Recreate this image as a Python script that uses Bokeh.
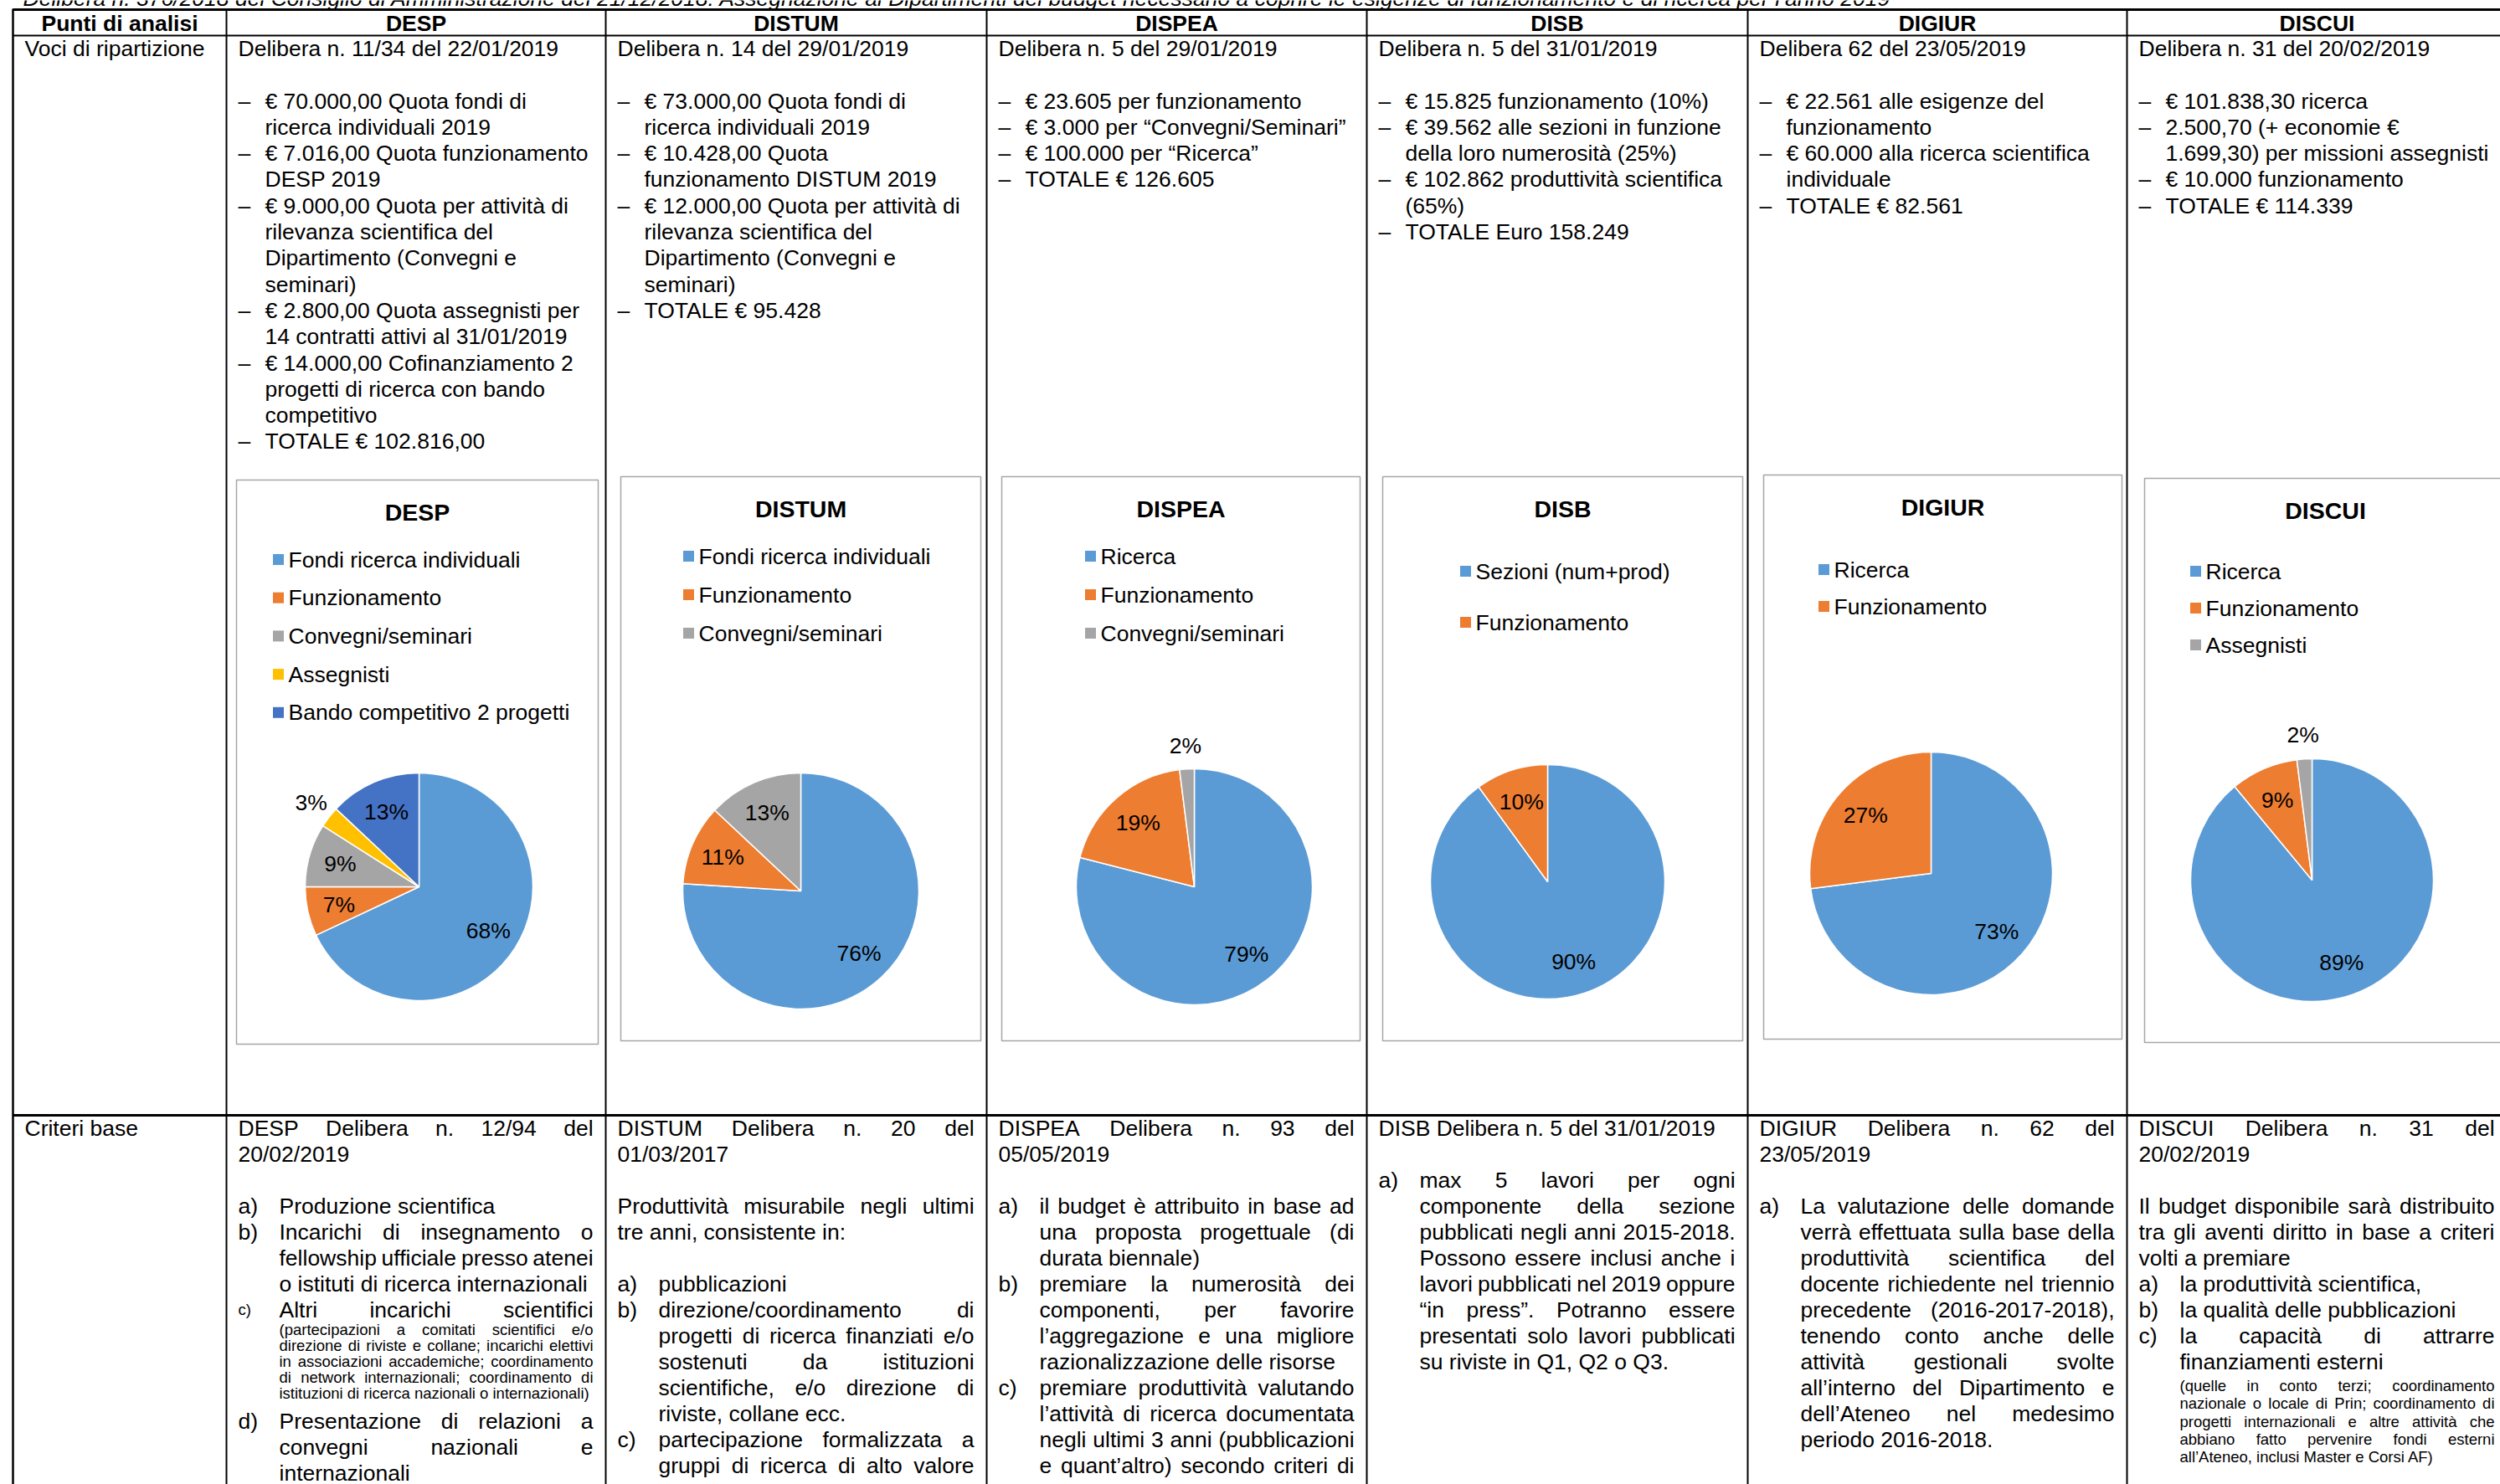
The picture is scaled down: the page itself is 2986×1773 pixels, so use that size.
import math
from bokeh.plotting import figure
from bokeh.models import Range1d, ColumnDataSource
from bokeh.core.properties import value
from bokeh.embed import file_html
from bokeh.resources import INLINE

# ---------------------------------------------------------------- data
title_text = ("Delibera n. 376/2018 del Consiglio di Amministrazione del 21/12/2018: Assegnazione ai "
              "Dipartimenti del budget necessario a coprire le esigenze di funzionamento e di ricerca per l’anno 2019")
header_labels = ["Punti di analisi", "DESP", "DISTUM", "DISPEA", "DISB", "DIGIUR", "DISCUI"]
row_labels = ["Voci di ripartizione", "Criteri base"]

delibere = ["Delibera n. 11/34 del 22/01/2019", "Delibera n. 14 del 29/01/2019",
            "Delibera n. 5 del 29/01/2019", "Delibera n. 5 del 31/01/2019",
            "Delibera 62 del 23/05/2019", "Delibera n. 31 del 20/02/2019"]

voci_desp = ["– € 70.000,00 Quota fondi di", "ricerca individuali 2019",
             "– € 7.016,00 Quota funzionamento", "DESP 2019",
             "– € 9.000,00 Quota per attività di", "rilevanza scientifica del",
             "Dipartimento (Convegni e", "seminari)",
             "– € 2.800,00 Quota assegnisti per", "14 contratti attivi al 31/01/2019",
             "– € 14.000,00 Cofinanziamento 2", "progetti di ricerca con bando", "competitivo",
             "– TOTALE € 102.816,00"]
voci_distum = ["– € 73.000,00 Quota fondi di", "ricerca individuali 2019",
               "– € 10.428,00 Quota", "funzionamento DISTUM 2019",
               "– € 12.000,00 Quota per attività di", "rilevanza scientifica del",
               "Dipartimento (Convegni e", "seminari)", "– TOTALE € 95.428"]
voci_dispea = ["– € 23.605 per funzionamento", "– € 3.000 per “Convegni/Seminari”",
               "– € 100.000 per “Ricerca”", "– TOTALE € 126.605"]
voci_disb = ["– € 15.825 funzionamento (10%)", "– € 39.562 alle sezioni in funzione",
             "della loro numerosità (25%)", "– € 102.862 produttività scientifica", "(65%)",
             "– TOTALE Euro 158.249"]
voci_digiur = ["– € 22.561 alle esigenze del", "funzionamento",
               "– € 60.000 alla ricerca scientifica", "individuale", "– TOTALE € 82.561"]
voci_discui = ["– € 101.838,30 ricerca", "– 2.500,70 (+ economie €",
               "1.699,30) per missioni assegnisti", "– € 10.000 funzionamento", "– TOTALE € 114.339"]
voci_all = [voci_desp, voci_distum, voci_dispea, voci_disb, voci_digiur, voci_discui]

# "~" marks the small-print note lines
criteri_desp = ["DESP Delibera n. 12/94 del", "20/02/2019", "",
                "a) Produzione scientifica", "b) Incarichi di insegnamento o",
                "fellowship ufficiale presso atenei", "o istituti di ricerca internazionali",
                "c) Altri incarichi scientifici",
                "~(partecipazioni a comitati scientifici e/o",
                "~direzione di riviste e collane; incarichi elettivi",
                "~in associazioni accademiche; coordinamento",
                "~di network internazionali; coordinamento di",
                "~istituzioni di ricerca nazionali o internazionali)",
                "d) Presentazione di relazioni a", "convegni nazionali e", "internazionali"]
criteri_distum = ["DISTUM Delibera n. 20 del", "01/03/2017", "",
                  "Produttività misurabile negli ultimi", "tre anni, consistente in:", "",
                  "a) pubblicazioni", "b) direzione/coordinamento di",
                  "progetti di ricerca finanziati e/o", "sostenuti da istituzioni",
                  "scientifiche, e/o direzione di", "riviste, collane ecc.",
                  "c) partecipazione formalizzata a", "gruppi di ricerca di alto valore"]
criteri_dispea = ["DISPEA Delibera n. 93 del", "05/05/2019", "",
                  "a) il budget è attribuito in base ad", "una proposta progettuale (di",
                  "durata biennale)", "b) premiare la numerosità dei", "componenti, per favorire",
                  "l’aggregazione e una migliore", "razionalizzazione delle risorse",
                  "c) premiare produttività valutando", "l’attività di ricerca documentata",
                  "negli ultimi 3 anni (pubblicazioni", "e quant’altro) secondo criteri di"]
criteri_disb = ["DISB Delibera n. 5 del 31/01/2019", "",
                "a) max 5 lavori per ogni", "componente della sezione",
                "pubblicati negli anni 2015-2018.", "Possono essere inclusi anche i",
                "lavori pubblicati nel 2019 oppure", "“in press”. Potranno essere",
                "presentati solo lavori pubblicati", "su riviste in Q1, Q2 o Q3."]
criteri_digiur = ["DIGIUR Delibera n. 62 del", "23/05/2019", "",
                  "a) La valutazione delle domande", "verrà effettuata sulla base della",
                  "produttività scientifica del", "docente richiedente nel triennio",
                  "precedente (2016-2017-2018),", "tenendo conto anche delle",
                  "attività gestionali svolte", "all’interno del Dipartimento e",
                  "dell’Ateneo nel medesimo", "periodo 2016-2018."]
criteri_discui = ["DISCUI Delibera n. 31 del", "20/02/2019", "",
                  "Il budget disponibile sarà distribuito", "tra gli aventi diritto in base a criteri",
                  "volti a premiare", "a) la produttività scientifica,",
                  "b) la qualità delle pubblicazioni", "c) la capacità di attrarre",
                  "finanziamenti esterni",
                  "~(quelle in conto terzi; coordinamento",
                  "~nazionale o locale di Prin; coordinamento di",
                  "~progetti internazionali e altre attività che",
                  "~abbiano fatto pervenire fondi esterni",
                  "~all’Ateneo, inclusi Master e Corsi AF)"]
criteri_all = [criteri_desp, criteri_distum, criteri_dispea, criteri_disb, criteri_digiur, criteri_discui]
criteri_continues = [False, True, True, False, False, False]
soft_break_lines = {"c) Altri incarichi scientifici"}

pie_titles = ["DESP", "DISTUM", "DISPEA", "DISB", "DIGIUR", "DISCUI"]
pie_desp_labels = ["Fondi ricerca individuali", "Funzionamento", "Convegni/seminari", "Assegnisti",
                   "Bando competitivo 2 progetti"]
pie_desp_pct = [68, 7, 9, 3, 13]
pie_distum_labels = ["Fondi ricerca individuali", "Funzionamento", "Convegni/seminari"]
pie_distum_pct = [76, 11, 13]
pie_dispea_labels = ["Ricerca", "Funzionamento", "Convegni/seminari"]
pie_dispea_pct = [79, 19, 2]
pie_disb_labels = ["Sezioni (num+prod)", "Funzionamento"]
pie_disb_pct = [90, 10]
pie_digiur_labels = ["Ricerca", "Funzionamento"]
pie_digiur_pct = [73, 27]
pie_discui_labels = ["Ricerca", "Funzionamento", "Assegnisti"]
pie_discui_pct = [89, 9, 2]
pie_labels_all = [pie_desp_labels, pie_distum_labels, pie_dispea_labels,
                  pie_disb_labels, pie_digiur_labels, pie_discui_labels]
pie_pct_all = [pie_desp_pct, pie_distum_pct, pie_dispea_pct,
               pie_disb_pct, pie_digiur_pct, pie_discui_pct]

# ---------------------------------------------------------------- layout / style
PALETTE = ["#5B9BD5", "#ED7D31", "#A5A5A5", "#FFC000", "#4472C4"]
FONT = "Liberation Sans"
FS = 26.5
FS_SMALL = 18.5
IMG_W, IMG_H = 2986, 1773
FW, FH = 2986, 1773
COLS = [15, 270, 723, 1178, 1632, 2087, 2540, 2994]
# small-print spacing per column: (gap after main line, step, gap back to main line)
SMALL_SPACING = {0: (24, 19, 33), 5: (29, 21.3, 33)}

CHARTS = [
    dict(box=(282, 714, 573, 1247), title_y=611, leg_y0=668, leg_dy=45.7, sq_x=332, cx=500, cy=1059, r=136),
    dict(box=(741, 1171, 569, 1243), title_y=607, leg_y0=664, leg_dy=46, sq_x=822, cx=956, cy=1064, r=141),
    dict(box=(1196, 1624, 569, 1243), title_y=607, leg_y0=664, leg_dy=46, sq_x=1302, cx=1426, cy=1059, r=141),
    dict(box=(1651, 2081, 569, 1243), title_y=607, leg_y0=682, leg_dy=61, sq_x=1750, cx=1848, cy=1053, r=140),
    dict(box=(2106, 2534, 567, 1241), title_y=605, leg_y0=680, leg_dy=44, sq_x=2178, cx=2306, cy=1043, r=145),
    dict(box=(2561, 2993, 571, 1245), title_y=609, leg_y0=682, leg_dy=44, sq_x=2622, cx=2761, cy=1051, r=145),
]

AW = {' ': 278, '!': 278, '"': 355, '%': 889, '&': 667, "'": 191, '(': 333, ')': 333, '+': 584,
      ',': 278, '-': 333, '.': 278, '/': 278, ':': 278, ';': 278,
      'A': 667, 'B': 667, 'C': 722, 'D': 722, 'E': 667, 'F': 611, 'G': 778, 'H': 722, 'I': 278,
      'J': 500, 'K': 667, 'L': 556, 'M': 833, 'N': 722, 'O': 778, 'P': 667, 'Q': 778, 'R': 722,
      'S': 667, 'T': 611, 'U': 722, 'V': 667, 'W': 944, 'X': 667, 'Y': 667, 'Z': 611,
      'a': 556, 'b': 556, 'c': 500, 'd': 556, 'e': 556, 'f': 278, 'g': 556, 'h': 556, 'i': 222,
      'j': 222, 'k': 500, 'l': 222, 'm': 833, 'n': 556, 'o': 556, 'p': 556, 'q': 556, 'r': 333,
      's': 500, 't': 278, 'u': 556, 'v': 500, 'w': 722, 'x': 500, 'y': 500, 'z': 500,
      'à': 556, 'è': 556, 'é': 556, 'ì': 278, 'ò': 556, 'ù': 556, '€': 556, '’': 222, '‘': 222,
      '“': 333, '”': 333, '–': 556}
for d in "0123456789":
    AW[d] = 556


def tw(s, size):
    return sum(AW.get(c, 556) for c in s) * size / 1000.0


def Y(y):
    return IMG_H - y


p = figure(width=FW, height=FH, x_range=Range1d(0, FW),
           y_range=Range1d(IMG_H - FH, IMG_H),
           output_backend="svg", toolbar_location=None, min_border=0,
           x_axis_location=None, y_axis_location=None)
p.outline_line_color = None
p.grid.visible = False
p.background_fill_color = "white"

TEXTS = {}


def add(x, y, s, size=FS, style="normal", align="left", color="#000000"):
    d = TEXTS.setdefault((size, style, align, color), {"x": [], "y": [], "t": []})
    d["x"].append(x)
    d["y"].append(Y(y))
    d["t"].append(s)


def justify(s, x0, x1, y, size=FS):
    words = s.split()
    if len(words) < 2:
        add(x0, y, s, size)
        return
    ws = [tw(w, size) for w in words]
    gap = (x1 - x0 - sum(ws)) / (len(words) - 1)
    x = x0
    for w, wd in zip(words, ws):
        add(x, y, w, size)
        x += wd + gap


def is_item(s):
    return len(s) > 2 and s[1] == ")" and s[0].isalpha() and s[0].islower()


# ---------------------------------------------------------------- table lines
seg = dict(x0=[], y0=[], x1=[], y1=[], w=[])


def line(x0, y0, x1, y1, w):
    seg["x0"].append(x0); seg["y0"].append(Y(y0))
    seg["x1"].append(x1); seg["y1"].append(Y(y1)); seg["w"].append(w)


line(COLS[0], 11, IMG_W + 10, 11, 3)
line(COLS[0], 42, IMG_W + 10, 42, 2)
line(COLS[0], 1332, IMG_W + 10, 1332, 3)
for i, cx in enumerate(COLS[:-1]):
    line(cx, 10, cx, IMG_H + 10, 2.5 if i == 0 else 2)
p.segment("x0", "y0", "x1", "y1", source=ColumnDataSource(seg), line_color="black", line_width="w")

# ---------------------------------------------------------------- title / headers
add(27, -3, title_text, FS, "italic")
for i, h in enumerate(header_labels):
    add((COLS[i] + COLS[i + 1]) / 2, 27, h, FS, "bold", "center")
add(COLS[0] + 14, 57, row_labels[0])
add(COLS[0] + 14, 1347, row_labels[1])

# ---------------------------------------------------------------- row 1: voci
for ci, (deli, voci) in enumerate(zip(delibere, voci_all)):
    left = COLS[ci + 1] + 14
    add(left, 57, deli)
    y = 120.0
    for ln in voci:
        if ln.startswith("– "):
            add(left, y, "–")
            add(left + 32, y, ln[2:])
        else:
            add(left + 32, y, ln)
        y += 31.3

# ---------------------------------------------------------------- row 2: criteri
for ci, lines in enumerate(criteri_all):
    left = COLS[ci + 1] + 14
    right = COLS[ci + 2] - 15
    g_in, g_step, g_out = SMALL_SPACING.get(ci, (24, 19, 33))
    y = 1347.0
    in_list = False
    n = len(lines)
    prev_small = False
    for k, ln in enumerate(lines):
        small = ln.startswith("~")
        if k > 0:
            if small and prev_small:
                y += g_step
            elif small:
                y += g_in
            elif prev_small:
                y += g_out
            else:
                y += 31
        prev_small = small
        if ln == "":
            in_list = False
            continue
        txt = ln[1:] if small else ln
        nxt = lines[k + 1] if k + 1 < n else None
        nxt_small = nxt is not None and nxt.startswith("~")
        if nxt is None:
            just = criteri_continues[ci]
        elif nxt == "" or is_item(nxt):
            just = False
        elif nxt_small != small:
            just = ln in soft_break_lines
        else:
            just = True
        size = FS_SMALL if small else FS
        x0 = left
        if not small and is_item(txt):
            in_list = True
            add(left, y, txt[:2], FS_SMALL if nxt_small else FS)
            txt = txt[3:]
            x0 = left + 49
        elif in_list:
            x0 = left + 49
        if just:
            justify(txt, x0, right, y, size)
        else:
            add(x0, y, txt, size)

# ---------------------------------------------------------------- pie charts
for ch, ttl, labs, pcts in zip(CHARTS, pie_titles, pie_labels_all, pie_pct_all):
    l, r_, t, b = ch["box"]
    p.quad(left=[l], right=[r_], top=[Y(t)], bottom=[Y(b)], fill_color=None,
           line_color="#A6A6A6", line_width=1.5)
    add((l + r_) / 2, ch["title_y"], ttl, 28.5, "bold", "center")
    sq_y = [Y(ch["leg_y0"] + j * ch["leg_dy"]) for j in range(len(labs))]
    p.rect(x=[ch["sq_x"]] * len(labs), y=sq_y, width=13, height=13,
           fill_color=PALETTE[:len(labs)], line_color=None)
    for j, lab in enumerate(labs):
        add(ch["sq_x"] + 12, ch["leg_y0"] + j * ch["leg_dy"], lab, FS)

    total = float(sum(pcts))
    cum = 0.0
    starts, ends, cols = [], [], []
    for j, v in enumerate(pcts):
        c0 = cum / total
        c1 = (cum + v) / total
        cum += v
        starts.append(math.pi / 2 - 2 * math.pi * c1)
        ends.append(math.pi / 2 - 2 * math.pi * c0)
        cols.append(PALETTE[j])
        mid = math.pi / 2 - 2 * math.pi * (c0 + c1) / 2
        rf = 1.2 if v < 5 else 0.72
        add(ch["cx"] + rf * ch["r"] * math.cos(mid),
            ch["cy"] - rf * ch["r"] * math.sin(mid), f"{v}%", FS, "normal", "center")
    p.wedge(x=[ch["cx"]] * len(pcts), y=[Y(ch["cy"])] * len(pcts), radius=ch["r"],
            start_angle=starts, end_angle=ends, fill_color=cols,
            line_color="white", line_width=1.5)

# ---------------------------------------------------------------- render texts
for (size, style, align, color), d in TEXTS.items():
    p.text(x="x", y="y", text="t", source=ColumnDataSource(d),
           text_font=value(FONT), text_font_size=value(f"{size}px"),
           text_font_style=value(style), text_align=value(align),
           text_baseline=value("middle"), text_color=value(color))

open("out.html", "w").write(file_html(p, INLINE))
